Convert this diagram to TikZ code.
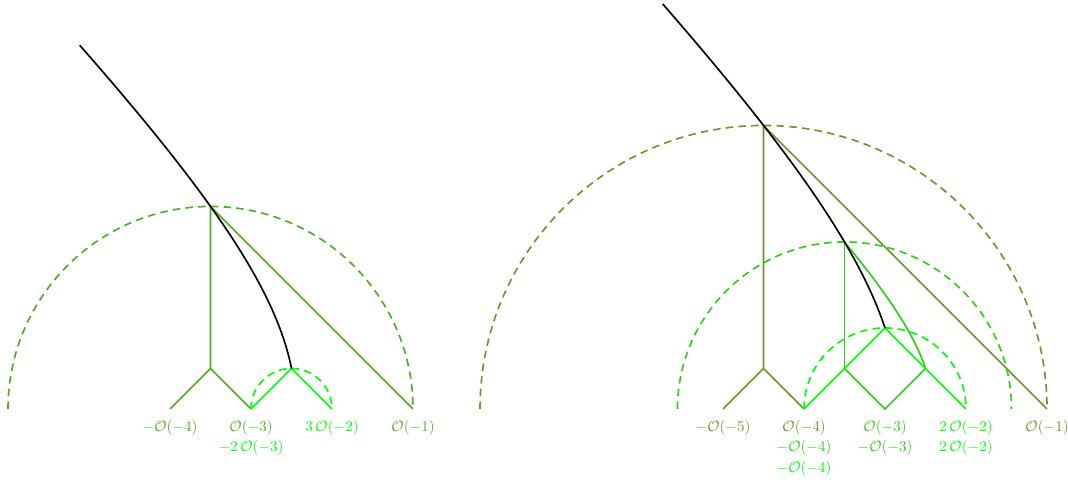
\documentclass[tikz,border=0pt]{standalone}
\usetikzlibrary{positioning}
\definecolor{wallolive}{RGB}{107,150,45}
\definecolor{wallmid}{RGB}{80,172,35}
\definecolor{wallgreen}{RGB}{50,205,25}
\definecolor{wallbright}{RGB}{0,255,0}

\begin{document}
\begin{tikzpicture}[x=1.9cm, y=1.9cm,
    wall/.style={line width=1.1pt},
    halfcircle/.style={line width=1.1pt, dash pattern=on 5pt off 3.5pt},
    lbl/.style={below=5.5pt, align=center, inner sep=2pt}]
  \useasboundingbox (0,-0.963) rectangle (13.185,5.049);

  % Left picture
  \begin{scope}[shift={(6.099,0)}]
    \coordinate (lA) at (-4,0);
    \coordinate (lB) at (-3,0);
    \coordinate (lC) at (-2,0);
    \coordinate (lD) at (-1,0);
    \coordinate (lfork) at (-3.5,0.5);
    \coordinate (lsmall) at (-2.5,0.5);
    \coordinate (ltop) at (-3.5,2.5);

    % Walls
    \draw[wall, wallmid] (lA) -- (lfork) -- (lB);
    \draw[wall, wallmid] (lfork) -- (ltop) -- (lD);
    \draw[halfcircle, wallmid] (-6,0) arc (180:0:2.5);
    \draw[wall, wallbright] (lB) -- (lsmall) -- (lC);
    \draw[halfcircle, wallbright] (lB) arc (180:0:0.5);

    % Path: u^2 - v^2 = 6
    \draw[wall, black] plot[domain=4.49:0.5, samples=60, variable=\t] ({-sqrt(\t*\t+6)}, {\t});

    % Labels
    \node[lbl, text=wallmid] (lm4) at (lA) {$-\mathcal{O}(-4)$};
    \node[lbl] (lm3) at (lB) {\textcolor{wallmid}{$\mathcal{O}(-3)$}\\[1.5pt] \textcolor{wallbright}{$-2\,\mathcal{O}(-3)$}};
    \node[lbl, text=wallbright] (lm2) at (lC) {$3\,\mathcal{O}(-2)$};
    \node[lbl, text=wallmid] (lm1) at (lD) {$\mathcal{O}(-1)$};
  \end{scope}

  % Right picture
  \begin{scope}[shift={(13.926,0)}]
    \coordinate (rA) at (-5,0);
    \coordinate (rB) at (-4,0);
    \coordinate (rC) at (-3,0);
    \coordinate (rD) at (-2,0);
    \coordinate (rE) at (-1,0);
    \coordinate (rfork) at (-4.5,0.5);
    \coordinate (rtop) at (-4.5,3.5);
    \coordinate (mleft) at (-3.5,0.5);
    \coordinate (mright) at (-2.5,0.5);
    \coordinate (mtop) at (-3.5,2.062);
    \coordinate (stop) at (-3,1);

    % Outer walls
    \draw[wall, wallolive] (rA) -- (rfork) -- (rB);
    \draw[wall, wallolive] (rfork) -- (rtop) -- (rE);
    \draw[halfcircle, wallolive] (-8,0) arc (180:0:3.5);

    % Middle walls
    \draw[wall, wallgreen] (mleft) -- (mtop);
    \draw[wall, wallgreen] (mleft) -- (rC) -- (mright);
    \draw[wall, wallgreen] plot[domain=2.062:0.5, samples=40, variable=\t] ({-1-sqrt(\t*\t+2)}, {\t});
    \draw[halfcircle, wallgreen] (-5.562,0) arc (180:0:2.062);

    % Inner walls
    \draw[wall, wallbright] (rB) -- (stop) -- (rD);
    \draw[halfcircle, wallbright] (rB) arc (180:0:1);

    % Path: u^2 - v^2 = 8
    \draw[wall, black] plot[domain=5.0:1, samples=60, variable=\t] ({-sqrt(\t*\t+8)}, {\t});

    % Labels
    \node[lbl, text=wallolive] (rm5) at (rA) {$-\mathcal{O}(-5)$};
    \node[lbl] (rm4) at (rB) {\textcolor{wallolive}{$\mathcal{O}(-4)$}\\[1.5pt] \textcolor{wallgreen}{$-\mathcal{O}(-4)$}\\[1.5pt] \textcolor{wallbright}{$-\mathcal{O}(-4)$}};
    \node[lbl, text=wallgreen] (rm3) at (rC) {$\mathcal{O}(-3)$\\[1.5pt] $-\mathcal{O}(-3)$};
    \node[lbl, text=wallbright] (rm2) at (rD) {$2\,\mathcal{O}(-2)$\\[1.5pt] $2\,\mathcal{O}(-2)$};
    \node[lbl, text=wallolive] (rm1) at (rE) {$\mathcal{O}(-1)$};
  \end{scope}
\end{tikzpicture}
\end{document}
